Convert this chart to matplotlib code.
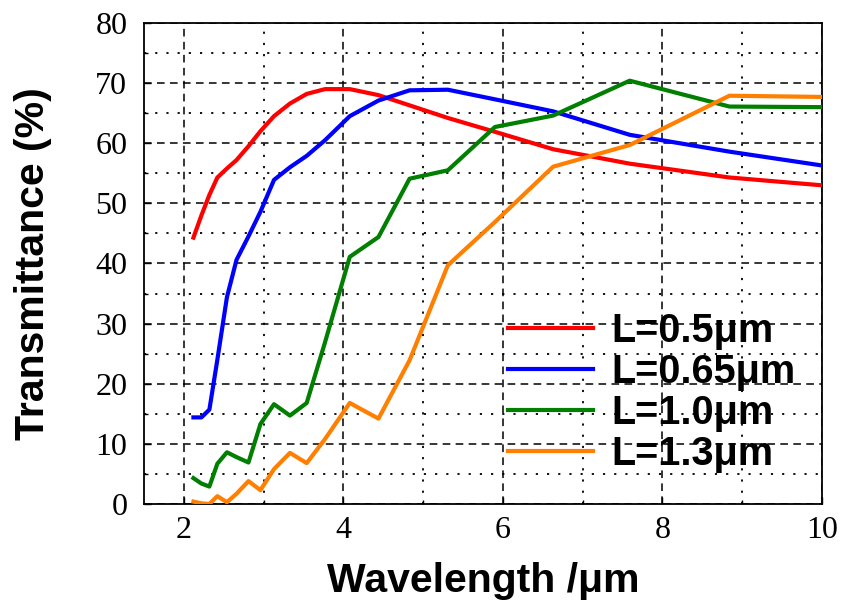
import matplotlib
matplotlib.use("Agg")
import matplotlib.pyplot as plt
from matplotlib.ticker import MultipleLocator

# Wavelength sampling (µm) shared by all four spectra
wavelength = [2.12, 2.22, 2.32, 2.42, 2.54, 2.66, 2.81, 2.96, 3.13, 3.33, 3.54,
              3.77, 4.08, 4.44, 4.83, 5.31, 5.90, 6.63, 7.59, 8.84, 10.0]

# Transmittance (%) for each grating length L
t_050 = [44.3, 48.0, 51.4, 54.3, 55.8, 57.2, 59.5, 62.0, 64.5, 66.6, 68.2,
         69.0, 69.0, 68.0, 66.3, 64.2, 61.9, 59.0, 56.6, 54.3, 53.0]
t_065 = [14.4, 14.4, 15.7, 24.0, 34.4, 40.6, 44.5, 48.6, 53.9, 56.0, 57.9,
         60.5, 64.5, 67.1, 68.8, 68.9, 67.3, 65.3, 61.4, 58.6, 56.3]
t_100 = [4.3, 3.4, 2.9, 6.7, 8.6, 7.8, 6.9, 13.3, 16.6, 14.7, 16.8,
         26.9, 41.1, 44.4, 54.1, 55.5, 62.7, 64.6, 70.4, 66.1, 66.0]
t_130 = [0.4, 0.1, 0.0, 1.3, 0.3, 1.7, 3.8, 2.3, 5.8, 8.5, 6.8,
         10.8, 16.8, 14.2, 23.9, 39.7, 46.9, 56.1, 59.7, 67.9, 67.7]

series = [
    ("L=0.5\u03bcm", t_050, "#ff0000"),
    ("L=0.65\u03bcm", t_065, "#0000ff"),
    ("L=1.0\u03bcm", t_100, "#007f00"),
    ("L=1.3\u03bcm", t_130, "#ff7f00"),
]

fig = plt.figure(figsize=(8.43, 6.03), dpi=100)
ax = fig.add_axes([0.1708, 0.1642, 0.8042, 0.7977])

for label, values, color in series:
    ax.plot(wavelength, values, color=color, lw=3.0, label=label,
            solid_joinstyle="round", zorder=3)

ax.set_xlim(1.5, 10)
ax.set_ylim(0, 80)
ax.xaxis.set_major_locator(MultipleLocator(2))
ax.xaxis.set_minor_locator(MultipleLocator(1))
ax.yaxis.set_major_locator(MultipleLocator(10))
ax.yaxis.set_minor_locator(MultipleLocator(5))

ax.grid(which="major", color="black", linestyle=(0, (5, 3.5)), lw=1.1, zorder=1)
ax.grid(which="minor", color="black", linestyle=(0, (1.2, 5)), lw=1.3, zorder=1)

for s in ax.spines.values():
    s.set_linewidth(1.3)

ax.tick_params(which="both", direction="in", top=False, right=False, width=1.0)
ax.tick_params(which="major", length=5)
ax.tick_params(which="minor", length=3)
ax.tick_params(axis="y", pad=12)
ax.tick_params(axis="x", pad=9)

for lbl in ax.get_xticklabels() + ax.get_yticklabels():
    lbl.set_fontfamily("Liberation Serif")
    lbl.set_fontsize(23)

label_font = {"family": "Liberation Sans", "weight": "bold", "size": 29.5}
ax.set_xlabel("Wavelength /\u03bcm", fontdict=label_font)
ax.set_ylabel("Transmittance (%)", fontdict=label_font)
ax.xaxis.set_label_coords(0.5, -0.12)
ax.yaxis.set_label_coords(-0.136, 0.5)

leg = ax.legend(loc="lower left", frameon=False, handlelength=2.15,
                handletextpad=0.45, labelspacing=0.075, borderaxespad=0.0,
                borderpad=0.0,
                prop={"family": "Liberation Sans", "weight": "bold", "size": 28.5},
                bbox_to_anchor=(0.537, 0.065))

fig.savefig("out.png", dpi=100)
